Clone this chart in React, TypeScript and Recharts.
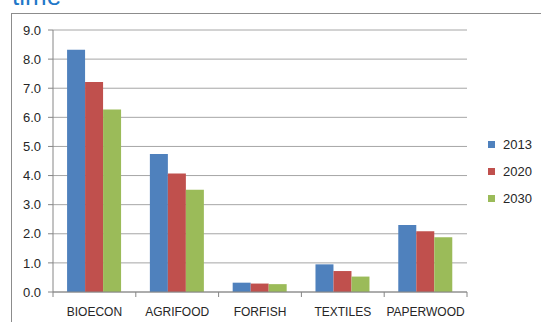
import { BarChart, Bar, XAxis, YAxis, CartesianGrid, Legend } from 'recharts';

// Values
const categories = ['BIOECON', 'AGRIFOOD', 'FORFISH', 'TEXTILES', 'PAPERWOOD'];
const values2013 = [8.32, 4.74, 0.32, 0.95, 2.3];
const values2020 = [7.21, 4.07, 0.29, 0.72, 2.09];
const values2030 = [6.27, 3.51, 0.27, 0.53, 1.88];
const yTicks = [0, 1, 2, 3, 4, 5, 6, 7, 8, 9];

const SERIES = [
  { key: '2013', color: '#4F81BD', values: values2013 },
  { key: '2020', color: '#C0504D', values: values2020 },
  { key: '2030', color: '#9BBB59', values: values2030 },
];

const data = categories.map((name, i) => {
  const row: Record<string, string | number> = { name };
  SERIES.forEach((s) => {
    row[s.key] = s.values[i];
  });
  return row;
});

const FONT = '"Liberation Sans", Arial, sans-serif';
const BAND = (467 - 53) / categories.length; // width of one category slot

function CategoryTick(props: any) {
  const { x, y, payload, index, visibleTicksCount } = props;
  const left = x - BAND / 2;
  return (
    <g>
      <line x1={left} y1={y} x2={left} y2={y + 5} stroke="#868686" />
      {index === visibleTicksCount - 1 && (
        <line x1={x + BAND / 2} y1={y} x2={x + BAND / 2} y2={y + 5} stroke="#868686" />
      )}
      <text x={x} y={y + 24} textAnchor="middle" fontSize={12} fill="#262626" fontFamily={FONT}>
        {payload.value}
      </text>
    </g>
  );
}

function SideLegend() {
  return (
    <div style={{ fontFamily: FONT, fontSize: 13, color: '#262626' }}>
      {SERIES.map((s) => (
        <div key={s.key} style={{ display: 'flex', alignItems: 'center', height: 27 }}>
          <span style={{ width: 7, height: 7, background: s.color, marginRight: 8 }} />
          <span>{s.key}</span>
        </div>
      ))}
    </div>
  );
}

export default function App() {
  return (
    <div style={{ position: 'absolute', left: 0, top: 0, width: 542, height: 322, background: '#fff', overflow: 'hidden' }}>
      <svg width={542} height={322} style={{ position: 'absolute', left: 0, top: 0 }}>
        <text x={12} y={5} fontSize={26} fill="#1F78C8" fontFamily={FONT}>time</text>
        <line x1={11} y1={13.5} x2={541} y2={13.5} stroke="#8c8c8c" />
        <line x1={11.5} y1={13} x2={11.5} y2={322} stroke="#8c8c8c" />
      </svg>
      <div style={{ position: 'absolute', left: 0, top: 0 }}>
        <BarChart
          width={542}
          height={322}
          data={data}
          margin={{ top: 30, right: 75, bottom: 0, left: 0 }}
          barCategoryGap="17%"
          barGap={0}
        >
          <CartesianGrid vertical={false} stroke="#a6a6a6" />
          <XAxis
            dataKey="name"
            stroke="#868686"
            tickLine={false}
            tickSize={0}
            tickMargin={0}
            height={30}
            interval={0}
            tick={<CategoryTick />}
          />
          <YAxis
            width={53}
            domain={[0, 9]}
            ticks={yTicks}
            tickFormatter={(v: number) => v.toFixed(1)}
            stroke="#868686"
            tickSize={5}
            tickMargin={7}
            tick={{ fill: '#262626', fontSize: 13, fontFamily: FONT }}
          />
          <Legend
            layout="vertical"
            align="center"
            verticalAlign="middle"
            content={<SideLegend />}
            wrapperStyle={{ left: 488, top: 131, width: 60 }}
          />
          {SERIES.map((s) => (
            <Bar key={s.key} dataKey={s.key} fill={s.color} isAnimationActive={false} />
          ))}
        </BarChart>
      </div>
    </div>
  );
}
